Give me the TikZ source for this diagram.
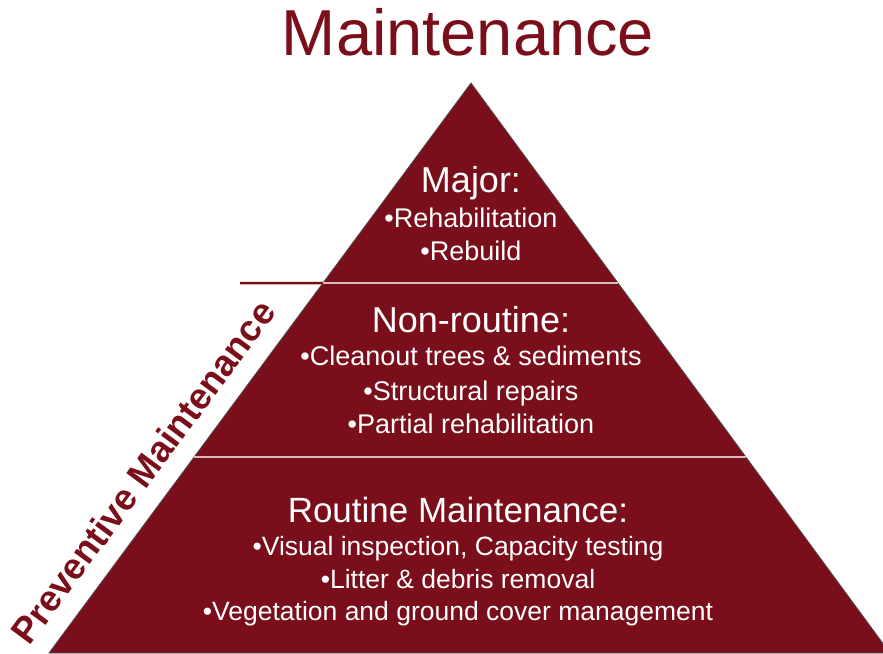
\documentclass[tikz,border=0pt]{standalone}
\usepackage{fontspec}
\setmainfont{Liberation Sans}
\usepackage{xcolor}
\definecolor{maroon}{RGB}{122,14,26}
\usetikzlibrary{calc}
\tikzset{
	tier/.style={fill=maroon, draw=black!70, line width=0.8pt},
	head/.style={text=white, anchor=base, inner sep=0pt,
			font=\fontsize{36}{36}\selectfont},
	item/.style={text=white, anchor=base, inner sep=0pt,
			font=\fontsize{27}{27}\selectfont},
	divider/.style={draw=white!72!maroon, line width=1.5pt}
}

\begin{document}
\begin{tikzpicture}[x=1pt, y=-1pt]
	\useasboundingbox (0,0) rectangle (883,653);
	\coordinate (top) at (471,83);
	\coordinate (bl) at (49,653);
	\coordinate (br) at (890,653);
	\begin{scope}
		\clip (0,0) rectangle (883,653);
		\fill[tier] (top) -- (bl) -- (br) -- cycle;
	\end{scope}

	% level borders
	\coordinate (m1l) at ($(top)!0.3509!(bl)$);
	\coordinate (m1r) at ($(top)!0.3509!(br)$);
	\coordinate (m2l) at ($(top)!0.6561!(bl)$);
	\coordinate (m2r) at ($(top)!0.6561!(br)$);
	\draw[divider] (m1l) -- (m1r);
	\draw[divider] (m2l) -- (m2r);
	\coordinate (pm) at (240,283);
	\draw[maroon, line width=2.5pt] (pm) -- (m1l);

	\node[anchor=base, text=maroon, inner sep=0pt,
		font=\fontsize{65}{65}\selectfont] (title) at (468,55) {Maintenance};
	\node[rotate=53.5, text=maroon, inner sep=0pt,
		font=\bfseries\fontsize{36.5}{36.5}\selectfont] (prev) at (143,472) {Preventive Maintenance};

	\node[head] (major) at (471,192) {Major:};
	\node[item] (rehab) at (471,227) {•Rehabilitation};
	\node[item] (rebuild) at (471,260) {•Rebuild};

	\node[head] (nonroutine) at (471,332) {Non-routine:};
	\node[item] (cleanout) at (471,365) {•Cleanout trees \& sediments};
	\node[item] (repairs) at (471,400) {•Structural repairs};
	\node[item] (partial) at (471,433) {•Partial rehabilitation};

	\node[head, font=\fontsize{35}{35}\selectfont] (routine) at (458,522) {Routine Maintenance:};
	\node[item, font=\fontsize{26.5}{26.5}\selectfont] (visual) at (458,555) {•Visual inspection, Capacity testing};
	\node[item, font=\fontsize{26.5}{26.5}\selectfont] (litter) at (458,588) {•Litter \& debris removal};
	\node[item, font=\fontsize{26.5}{26.5}\selectfont] (vegetation) at (458,620) {•Vegetation and ground cover management};
\end{tikzpicture}
\end{document}
